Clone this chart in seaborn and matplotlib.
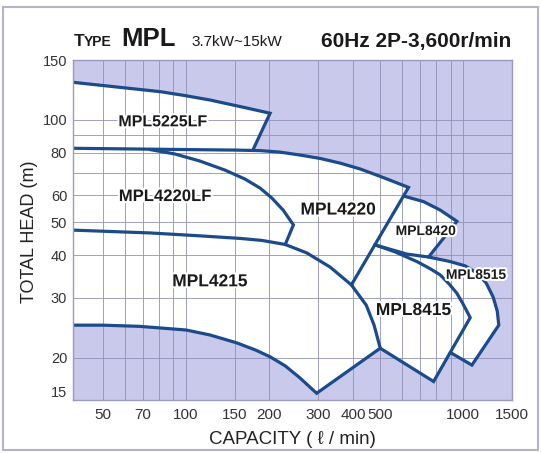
import numpy as np
import matplotlib
matplotlib.use("Agg")
import matplotlib.pyplot as plt
import matplotlib.patheffects as pe
from matplotlib.patches import Rectangle
from matplotlib.ticker import FixedLocator, NullFormatter, FixedFormatter
import seaborn as sns

# ---------------- data (capacity l/min, total head m) ----------------
q_5225lf_top = [39, 58, 81, 99, 122, 157, 201]
h_5225lf_top = [129, 124.6, 121, 117.9, 114.4, 109.4, 104.6]
q_5225lf_edge = [201, 174]
h_5225lf_edge = [104.6, 81.3]

q_4220_top = [39, 74, 112, 150, 185, 218, 258, 305, 360, 425, 502, 635]
h_4220_top = [82.5, 82.0, 81.7, 81.5, 81.2, 80.4, 78.8, 77.0, 74.6, 71.7, 68.2, 63.3]
q_4220_edge = [635, 609, 480, 395]
h_4220_edge = [63.3, 59.7, 42.9, 32.7]

q_4220lf = [74, 91, 112, 138, 163, 185, 204, 224, 244]
h_4220lf = [81.8, 79.4, 75.7, 71.2, 67.0, 63.0, 58.9, 54.3, 49.1]
q_4220lf_edge = [244, 228]
h_4220lf_edge = [49.1, 43.0]

q_4215_max = [39, 74, 112, 157, 188, 228, 273, 331, 395, 447, 477, 502]
h_4215_max = [47.4, 46.5, 45.6, 44.8, 44.2, 43.0, 40.6, 36.9, 32.7, 28.5, 24.9, 21.3]
q_4215_min = [39, 50, 68, 100, 122, 152, 178, 201, 228, 258, 296]
h_4215_min = [24.9, 24.9, 24.7, 24.1, 23.3, 22.1, 21.05, 20.1, 18.9, 17.4, 15.7]

q_8420_top = [609, 719, 826, 949]
h_8420_top = [59.7, 57.5, 54.3, 50.3]
q_8420_edge = [949, 750]
h_8420_edge = [50.3, 39.5]

q_8515_top = [480, 626, 750, 898, 1017, 1124, 1211, 1283, 1327, 1344]
h_8515_top = [42.9, 40.3, 39.5, 38.3, 37.2, 35.4, 33.1, 30.1, 27.4, 24.9]
q_8515_low = [1344, 1075, 898]
h_8515_low = [24.9, 19.0, 20.7]

q_8415_max = [480, 568, 681, 760, 826, 890, 949, 1000, 1060]
h_8415_max = [42.9, 40.9, 38.3, 36.5, 35.0, 32.9, 30.9, 28.7, 26.2]
q_8415_low = [1060, 898, 782, 502]
h_8415_low = [26.2, 20.7, 17.0, 21.3]

labels = ["MPL5225LF", "MPL4220LF", "MPL4215", "MPL4220", "MPL8420", "MPL8515", "MPL8415"]
label_q = [82.6, 84, 122, 354, 732, 1112, 662]
label_h = [98.7, 59.5, 33.4, 54.3, 47.1, 35.0, 27.5]
label_size = [11.5, 12, 12.5, 12.5, 10, 10, 12.5]

x_major = [50, 70, 100, 150, 200, 300, 400, 500, 1000, 1500]
x_minor = [60, 80, 90, 600, 700, 800, 900]
y_major = [15, 20, 30, 40, 50, 60, 80, 100, 150]
y_minor = [70, 90]

# ---------------- style ----------------
sns.set_theme(style="white")
plt.rcParams['font.family'] = ['Liberation Sans', 'DejaVu Sans']

LINE = '#1b4b8a'
BG = '#c9c9eb'
GRID = '#9090b8'

fig = plt.figure(figsize=(5.41, 4.53), dpi=100)
fig.patch.set_facecolor('white')
ax = fig.add_axes([72.7 / 541, 1 - 400 / 453, (512 - 72.7) / 541, 340 / 453])
ax.set_facecolor(BG)
ax.set_xscale('log')
ax.set_yscale('log')
ax.set_xlim(39, 1500)
ax.set_ylim(15, 150)

# white operating area (outer boundary)
fq, fh = [], []
fq += q_5225lf_top; fh += h_5225lf_top
fq += [q_5225lf_edge[1]]; fh += [h_5225lf_edge[1]]
for q, h in zip(q_4220_top, h_4220_top):
    if q > q_5225lf_edge[1]:
        fq.append(q); fh.append(h)
fq += q_8420_top; fh += h_8420_top
fq += [q_8420_edge[1]]; fh += [h_8420_edge[1]]
for q, h in zip(q_8515_top, h_8515_top):
    if q > q_8420_edge[1]:
        fq.append(q); fh.append(h)
fq += q_8515_low[1:]; fh += h_8515_low[1:]
fq += q_8415_low[2:]; fh += h_8415_low[2:]
fq += q_4215_min[::-1]; fh += h_4215_min[::-1]
ax.fill(fq, fh, color='white', zorder=0.2, lw=0)

# grid / ticks
ax.xaxis.set_major_locator(FixedLocator(x_major))
ax.xaxis.set_major_formatter(FixedFormatter([str(v) for v in x_major]))
ax.xaxis.set_minor_locator(FixedLocator(x_minor))
ax.xaxis.set_minor_formatter(NullFormatter())
ax.yaxis.set_major_locator(FixedLocator(y_major))
ax.yaxis.set_major_formatter(FixedFormatter([str(v) for v in y_major]))
ax.yaxis.set_minor_locator(FixedLocator(y_minor))
ax.yaxis.set_minor_formatter(NullFormatter())
ax.set_axisbelow(True)
ax.grid(True, which='both', color=GRID, lw=0.6)
ax.tick_params(which='both', length=0)
ax.tick_params(axis='x', pad=6, labelsize=11, labelcolor='#333333')
ax.tick_params(axis='y', pad=4, labelsize=10.5, labelcolor='#333333')
for t in ax.get_yticklabels():
    if t.get_text() == '15':
        t.set_va('bottom')
for s in ax.spines.values():
    s.set_color('#9a9ac0')
    s.set_linewidth(1.0)

# curves
curves = [
    (q_5225lf_top + q_5225lf_edge[1:], h_5225lf_top + h_5225lf_edge[1:]),
    (q_4220_top + q_4220_edge[1:], h_4220_top + h_4220_edge[1:]),
    (q_4220lf + q_4220lf_edge[1:], h_4220lf + h_4220lf_edge[1:]),
    (q_4215_max + q_4215_min[::-1], h_4215_max + h_4215_min[::-1]),
    (q_8420_top + q_8420_edge[1:], h_8420_top + h_8420_edge[1:]),
    (q_8515_top + q_8515_low[1:], h_8515_top + h_8515_low[1:]),
    (q_8415_max + q_8415_low[1:], h_8415_max + h_8415_low[1:]),
]
for q, h in curves:
    sns.lineplot(x=np.array(q, float), y=np.array(h, float), sort=False,
                 estimator=None, color=LINE, linewidth=2.3, ax=ax,
                 zorder=2, solid_joinstyle='miter')
ax.set_xlabel('')
ax.set_ylabel('')

for txt, q, h, fs in zip(labels, label_q, label_h, label_size):
    ax.text(q, h, txt, ha='center', va='center', fontsize=fs,
            fontweight='bold', color='#1a1a1a', zorder=3,
            path_effects=[pe.withStroke(linewidth=3, foreground='white')])

# titles
yb = 1 - 46.5 / 453
renderer = fig.canvas.get_renderer()
t1 = fig.text(73.4 / 541, yb, 'T', fontsize=12.5, fontweight='bold', va='baseline', color='#1a1a1a')
bb = t1.get_window_extent(renderer)
fig.text(bb.x1 / 541, yb, 'YPE', fontsize=10, fontweight='bold', va='baseline', color='#1a1a1a')
fig.text(121 / 541, yb, 'MPL', fontsize=18.5, fontweight='bold', va='baseline', color='#1a1a1a')
fig.text(191 / 541, yb, '3.7kW~15kW', fontsize=11, va='baseline', color='#1a1a1a')
fig.text(511 / 541, yb, '60Hz 2P-3,600r/min', fontsize=15, fontweight='bold', va='baseline', ha='right', color='#1a1a1a')

fig.text(30 / 541, 1 - 232 / 453, 'TOTAL HEAD (m)', rotation=90, ha='center', va='center', fontsize=13, color='#222222')
fig.text(292 / 541, 1 - 439 / 453, 'CAPACITY ( \u2113 / min)', ha='center', va='center', fontsize=13.5, color='#222222')

fig.patches.append(Rectangle((3 / 541, 3 / 453), 535 / 541, 443 / 453, transform=fig.transFigure,
                             fill=False, edgecolor='#b4b4c4', lw=1.5))

fig.savefig('out.png', dpi=100)
